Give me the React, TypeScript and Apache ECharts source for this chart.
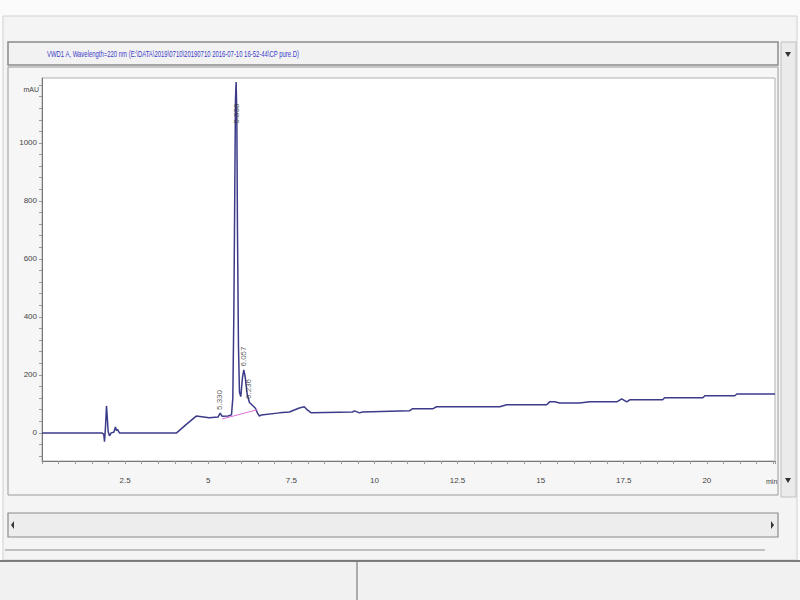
import { useEffect, useRef } from "react";
import * as echarts from "echarts";

const TITLE =
  "VWD1 A, Wavelength=220 nm (E:\\DATA\\2019\\0710\\20190710 2016-07-10 16-52-44\\CP pure.D)";

// Chromatogram trace (retention time in min, signal in mAU)
const times = [
  0, 1.8, 1.86, 1.88, 1.91, 1.94, 1.96, 1.99, 2.03, 2.08,
  2.16, 2.21, 2.24, 2.27, 2.33, 4.05, 4.35, 4.64, 5.03, 5.3,
  5.36, 5.42, 5.6, 5.7, 5.74, 5.77, 5.8, 5.82, 5.84, 5.86,
  5.88, 5.91, 5.94, 5.98, 6.03, 6.07, 6.11, 6.17, 6.24, 6.33,
  6.42, 6.48, 6.54, 6.6, 7.14, 7.44, 7.74, 7.89, 7.98, 8.1,
  9.34, 9.4, 9.55, 9.64, 11.05, 11.14, 11.75, 11.87, 13.77, 13.98,
  15.18, 15.27, 15.42, 15.57, 16.17, 16.48, 17.29, 17.44, 17.59, 17.68,
  18.67, 18.73, 19.88, 19.94, 20.84, 20.9, 22.05,
];
const signal = [
  0, 0, -5, -30, 20, 93, 60, 5, -10, 0,
  2, 20, 8, 12, 0, 0, 30, 58, 52, 55,
  68, 57, 58, 62, 120, 400, 850, 1150, 1210, 1100,
  700, 300, 140, 125, 190, 217, 195, 135, 105, 95,
  85, 69, 58, 62, 69, 72, 86, 90, 79, 69,
  72, 76, 69, 72, 76, 83, 83, 90, 90, 97,
  97, 107, 107, 103, 103, 107, 107, 117, 107, 114,
  114, 121, 121, 128, 128, 134, 134,
];

// Integration baseline (pink)
const baselineTimes = [5.42, 6.48];
const baselineValues = [48, 80];

// Peak retention-time labels
const peakTimes = [5.33, 5.84, 6.07, 6.22];
const peakLabelAt = [72, 1060, 222, 110];
const peakTexts = ["5.330", "5.838", "6.057", "6.236"];

// Axis ticks and labels
const xLabelValues = [2.5, 5, 7.5, 10, 12.5, 15, 17.5, 20];
const yLabelValues = [0, 200, 400, 600, 800, 1000];
const yTickValues = [
  -80, -40, 0, 40, 80, 120, 160, 200, 240, 280, 320, 360, 400, 440, 480, 520,
  560, 600, 640, 680, 720, 760, 800, 840, 880, 920, 960, 1000, 1040, 1080,
  1120, 1160, 1200,
];

const FONT = "Liberation Sans, Arial, sans-serif";

export default function App() {
  const ref = useRef<HTMLDivElement>(null);

  useEffect(() => {
    if (!ref.current) return;
    const chart = echarts.init(ref.current, null, { renderer: "svg" });

    const trace = times.map((t, i) => [t, signal[i]]);
    const base = baselineTimes.map((t, i) => [t, baselineValues[i]]);
    const labels = peakTimes.map((t, i) => ({
      value: [t, peakLabelAt[i]],
      name: peakTexts[i],
    }));

    chart.setOption({
      animation: false,
      backgroundColor: "#fbfbfb",
      grid: {
        left: 42,
        right: 25,
        top: 78,
        bottom: 139,
        show: true,
        backgroundColor: "#ffffff",
        borderColor: "#b0b0b0",
        borderWidth: 1,
      },
      xAxis: {
        type: "value",
        min: 0,
        max: 22.05,
        interval: 0.5,
        axisLine: { show: true, onZero: false, lineStyle: { color: "#777" } },
        axisTick: { show: true, length: 3, lineStyle: { color: "#999" } },
        splitLine: { show: false },
        axisLabel: {
          customValues: xLabelValues,
          fontSize: 8,
          color: "#444",
          fontFamily: FONT,
          margin: 15,
          formatter: (v: number) => String(v),
        },
      },
      yAxis: {
        type: "value",
        min: -97,
        max: 1224,
        axisLine: { show: true, onZero: false, lineStyle: { color: "#777" } },
        axisTick: {
          show: true,
          length: 3,
          customValues: yTickValues,
          lineStyle: { color: "#999" },
        },
        splitLine: { show: false },
        axisLabel: {
          customValues: yLabelValues,
          fontSize: 8,
          color: "#444",
          fontFamily: FONT,
          margin: 5,
          formatter: (v: number) => String(v),
        },
      },
      series: [
        {
          type: "line",
          data: trace,
          showSymbol: false,
          lineStyle: { color: "#3b3b8a", width: 1.5 },
          z: 3,
        },
        {
          type: "line",
          data: base,
          showSymbol: false,
          lineStyle: { color: "#e070d8", width: 1 },
          z: 4,
        },
        {
          type: "scatter",
          data: labels,
          symbolSize: 0,
          z: 5,
          label: {
            show: true,
            position: "top",
            distance: 2,
            rotate: 90,
            align: "left",
            verticalAlign: "middle",
            fontSize: 8,
            color: "#333",
            fontFamily: FONT,
            formatter: (p: any) => p.name,
          },
        },
      ],
      graphic: [
        {
          type: "rect",
          z: -20,
          silent: true,
          shape: { x: 3, y: 16, width: 794, height: 544 },
          style: { fill: "#f4f4f4", stroke: "#d0d0d0", lineWidth: 1 },
        },
        {
          type: "rect",
          z: -19,
          silent: true,
          shape: { x: 8, y: 42, width: 770, height: 23 },
          style: { fill: "#f2f2f2", stroke: "#8a8a8a", lineWidth: 1.5 },
        },
        {
          type: "rect",
          z: -19,
          silent: true,
          shape: { x: 8, y: 67, width: 770, height: 428 },
          style: { fill: "#f6f6f6", stroke: "#9a9a9a", lineWidth: 1 },
        },
        {
          type: "rect",
          z: -19,
          silent: true,
          shape: { x: 781, y: 42, width: 15, height: 455 },
          style: { fill: "#ebebeb", stroke: "#c0c0c0", lineWidth: 1 },
        },
        {
          type: "polygon",
          silent: true,
          shape: { points: [[785, 52], [791, 52], [788, 57]] },
          style: { fill: "#333" },
        },
        {
          type: "polygon",
          silent: true,
          shape: { points: [[785, 478], [791, 478], [788, 483]] },
          style: { fill: "#333" },
        },
        {
          type: "rect",
          z: -19,
          silent: true,
          shape: { x: 8, y: 513, width: 770, height: 24 },
          style: { fill: "#ededed", stroke: "#8a8a8a", lineWidth: 1.2 },
        },
        {
          type: "polygon",
          silent: true,
          shape: { points: [[14, 521], [14, 529], [11, 525]] },
          style: { fill: "#333" },
        },
        {
          type: "polygon",
          silent: true,
          shape: { points: [[771, 521], [771, 529], [774, 525]] },
          style: { fill: "#333" },
        },
        {
          type: "line",
          silent: true,
          shape: { x1: 5, y1: 550, x2: 765, y2: 550 },
          style: { stroke: "#8a8a8a", lineWidth: 1.2 },
        },
        {
          type: "rect",
          z: -19,
          silent: true,
          shape: { x: 0, y: 562, width: 800, height: 38 },
          style: { fill: "#f1f1f1" },
        },
        {
          type: "line",
          silent: true,
          shape: { x1: 0, y1: 561, x2: 800, y2: 561 },
          style: { stroke: "#555", lineWidth: 1.5 },
        },
        {
          type: "line",
          silent: true,
          shape: { x1: 357, y1: 562, x2: 357, y2: 600 },
          style: { stroke: "#666", lineWidth: 1 },
        },
        {
          type: "text",
          x: 47,
          y: 54,
          scaleX: 0.66,
          style: {
            text: TITLE,
            fill: "#3c3cc8",
            fontSize: 9,
            fontFamily: FONT,
            verticalAlign: "middle",
          },
        },
        {
          type: "text",
          x: 39,
          y: 89,
          style: {
            text: "mAU",
            fill: "#444",
            fontSize: 7,
            fontFamily: FONT,
            align: "right",
            verticalAlign: "middle",
          },
        },
        {
          type: "text",
          x: 766,
          y: 481,
          style: {
            text: "min",
            fill: "#444",
            fontSize: 7,
            fontFamily: FONT,
            verticalAlign: "middle",
          },
        },
      ],
    });

    return () => chart.dispose();
  }, []);

  return (
    <div
      ref={ref}
      style={{ position: "fixed", left: 0, top: 0, width: 800, height: 600 }}
    />
  );
}
